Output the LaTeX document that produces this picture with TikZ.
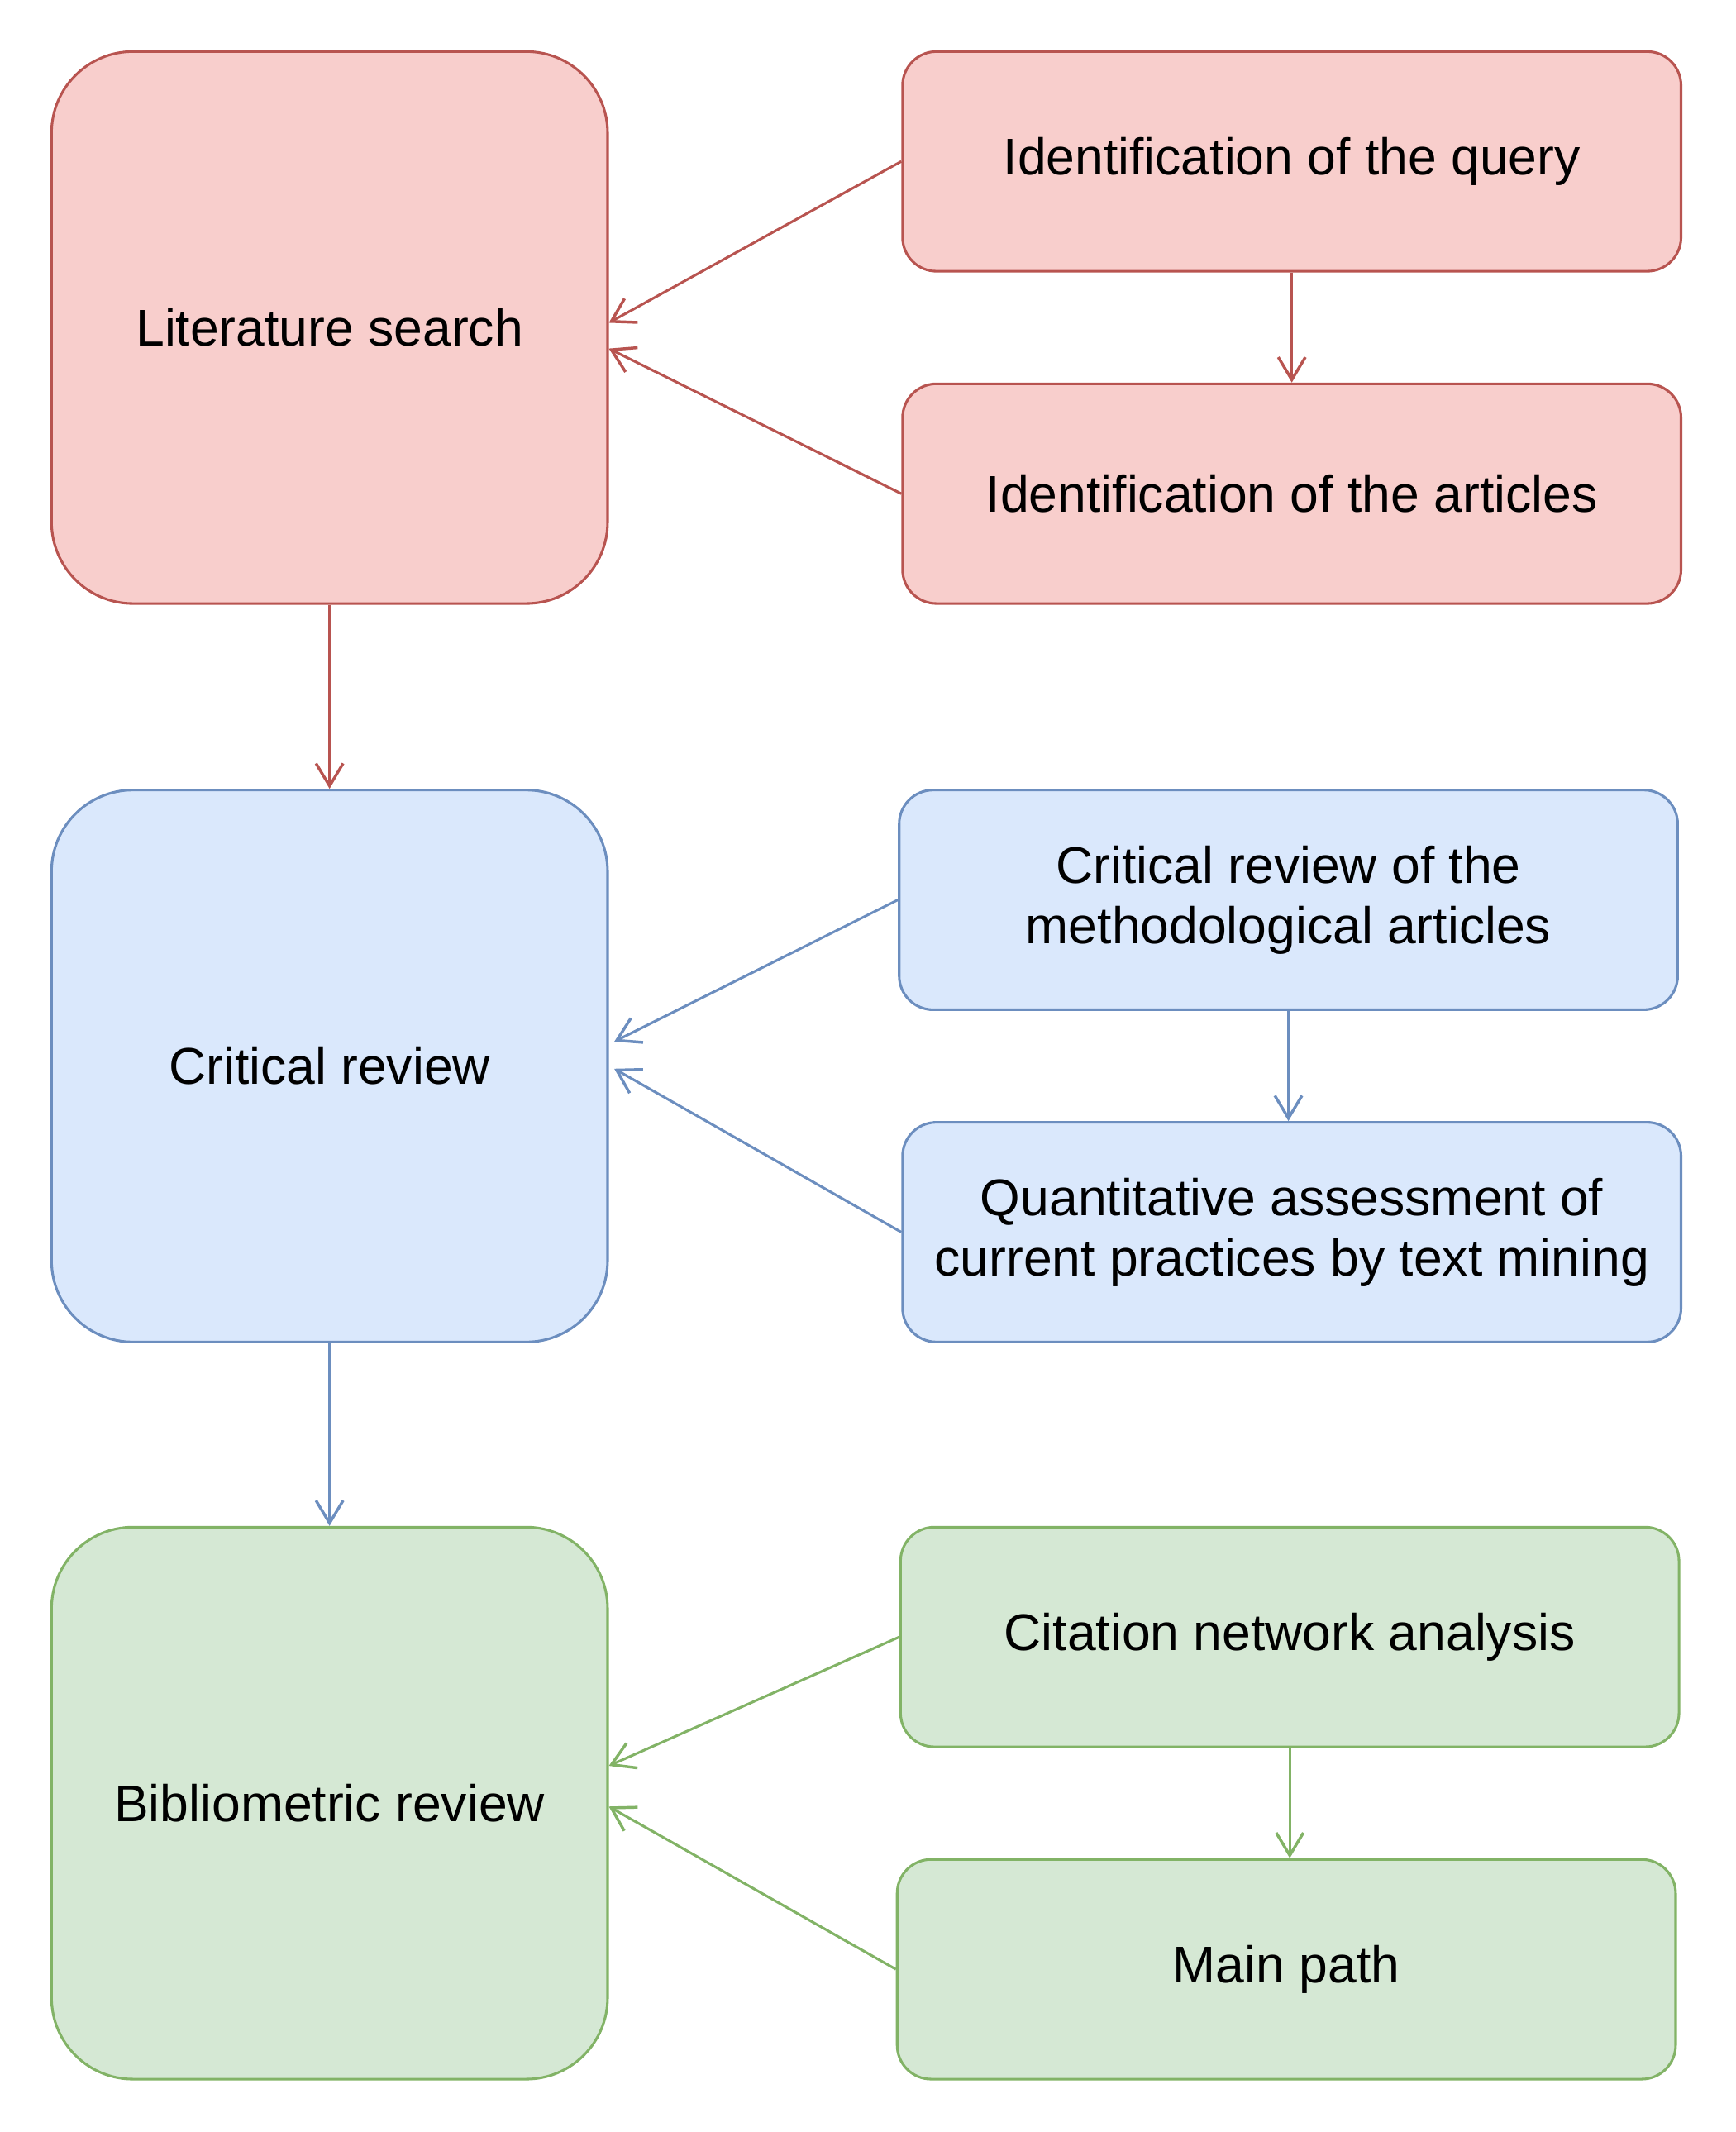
\documentclass[tikz,border=0pt]{standalone}
\usepackage{fontspec}
\setmainfont{Liberation Sans}
\usetikzlibrary{arrows.meta,calc}
\definecolor{rf}{HTML}{F8CECC}\definecolor{rs}{HTML}{B85450}
\definecolor{bf}{HTML}{DAE8FC}\definecolor{bs}{HTML}{6C8EBF}
\definecolor{gf}{HTML}{D5E8D4}\definecolor{gs}{HTML}{82B366}
\begin{document}
\begin{tikzpicture}[x=0.03cm,y=-0.03cm,
 box/.style={draw,line width=1.6pt,inner sep=0pt,align=center,font=\fontsize{32.5}{38}\selectfont},
 big/.style={box,minimum width=410*0.03cm,minimum height=407*0.03cm,rounded corners=1.8cm},
 sm/.style={box,minimum width=574*0.03cm,minimum height=162*0.03cm,rounded corners=0.75cm},
 ar/.style={line width=1.6pt,-{Straight Barb[length=0.5cm,width=0.6cm,line width=1.8pt]}}]
\useasboundingbox (0,0) rectangle (1280,1572);
\node[big,fill=rf,draw=rs] (lit) at (243,241.5) {Literature search};
\node[sm,fill=rf,draw=rs] (q) at (952.5,119) {Identification of the query};
\node[sm,fill=rf,draw=rs] (a) at (952.5,364) {Identification of the articles};
\node[big,fill=bf,draw=bs] (cr) at (243,786) {Critical review};
\node[sm,fill=bf,draw=bs] (m) at (950,663.5) {Critical review of the\\methodological articles};
\node[sm,fill=bf,draw=bs] (qa) at (952.5,908.5) {Quantitative assessment of\\current practices by text mining};
\node[big,fill=gf,draw=gs] (bib) at (243,1329.5) {Bibliometric review};
\node[sm,fill=gf,draw=gs] (c) at (951,1207) {Citation network analysis};
\node[sm,fill=gf,draw=gs] (mp) at (948.5,1452) {Main path};
\draw[ar,rs] (q.west) -- ($(lit.east)+(0,-3.5)$);
\draw[ar,rs] (a.west) -- ($(lit.east)+(0,15.5)$);
\draw[ar,rs] (q.south) -- (a.north);
\draw[ar,rs] (lit.south) -- (cr.north);
\draw[ar,bs] (m.west) -- ($(cr.east)+(4,-18)$);
\draw[ar,bs] (qa.west) -- ($(cr.east)+(4,2)$);
\draw[ar,bs] (m.south) -- (m.south|-qa.north);
\draw[ar,bs] (cr.south) -- (bib.north);
\draw[ar,gs] (c.west) -- ($(bib.east)+(0,-27.5)$);
\draw[ar,gs] (mp.west) -- ($(bib.east)+(0,2.5)$);
\draw[ar,gs] (c.south) -- (c.south|-mp.north);
\end{tikzpicture}
\end{document}
